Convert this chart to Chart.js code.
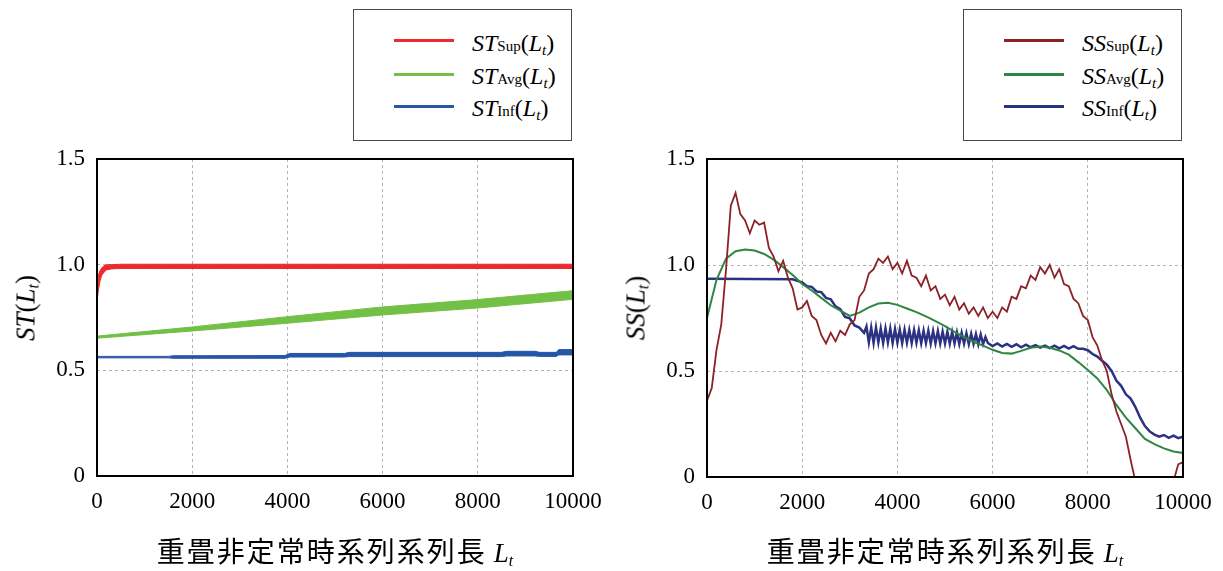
<!DOCTYPE html>
<html>
<head>
<meta charset="utf-8">
<script src="https://cdn.jsdelivr.net/npm/chart.js@4.4.0/dist/chart.umd.min.js"></script>
<style>
  body { margin: 0; background: #fff; width: 1223px; height: 571px; position: relative; overflow: hidden; font-family: "Liberation Serif", serif; }
  canvas { position: absolute; top: 0; }
  .box { position: absolute; box-sizing: border-box; border: 2px solid #000; pointer-events: none; }
  .legend { position: absolute; top: 9px; width: 217px; height: 130px; border: 1.5px solid #4a4a4a; background: #fff; }
  .swatch { position: absolute; left: 40px; width: 60px; height: 3px; }
  .lab { position: absolute; left: 118px; font-size: 24px; line-height: 24px; white-space: nowrap; }
  .lab .s { font-size: 15px; font-style: normal; }
  .lab .t, .ttl .t { font-size: 15px; font-style: italic; position: relative; top: 4px; }
  .ytitle { position: absolute; font-size: 27px; white-space: nowrap; transform: translate(-50%, -50%) rotate(-90deg); }
  .xtitle { position: absolute; top: 532px; white-space: nowrap; transform: translateX(-50%); font-size: 28px; line-height: 36px; }
  .xtitle .jp { font-family: "Noto Sans CJK JP", sans-serif; letter-spacing: 2px; }
  .xtitle .lt { font-family: "Liberation Serif", serif; font-size: 27px; }
  .ttl .t { font-size: 16px; }
</style>
</head>
<body>
<canvas id="stChart" width="614" height="571" style="left:0"></canvas>
<canvas id="ssChart" width="614" height="571" style="left:610px"></canvas>

<!-- plot frames -->
<div class="box" style="left:96px;top:158px;width:478px;height:319px"></div>
<div class="box" style="left:706px;top:158px;width:478px;height:320px"></div>

<div class="legend" style="left:353px">
  <div class="swatch" style="top:29px;background:#ec2a2c"></div>
  <div class="lab" style="top:21px"><i>ST</i><span class="s">Sup</span>(<i>L</i><span class="t">t</span>)</div>
  <div class="swatch" style="top:63px;background:#72c046"></div>
  <div class="lab" style="top:54px"><i>ST</i><span class="s">Avg</span>(<i>L</i><span class="t">t</span>)</div>
  <div class="swatch" style="top:95px;background:#2656a8"></div>
  <div class="lab" style="top:86px"><i>ST</i><span class="s">Inf</span>(<i>L</i><span class="t">t</span>)</div>
</div>
<div class="legend" style="left:963px">
  <div class="swatch" style="top:29px;background:#8c2227"></div>
  <div class="lab" style="top:21px"><i>SS</i><span class="s">Sup</span>(<i>L</i><span class="t">t</span>)</div>
  <div class="swatch" style="top:63px;background:#2d8642"></div>
  <div class="lab" style="top:54px"><i>SS</i><span class="s">Avg</span>(<i>L</i><span class="t">t</span>)</div>
  <div class="swatch" style="top:95px;background:#2c3282"></div>
  <div class="lab" style="top:86px"><i>SS</i><span class="s">Inf</span>(<i>L</i><span class="t">t</span>)</div>
</div>

<div class="ytitle ttl" style="left:26px;top:308px"><i>ST</i>(<i>L</i><span class="t">t</span>)</div>
<div class="ytitle ttl" style="left:636px;top:308px"><i>SS</i>(<i>L</i><span class="t">t</span>)</div>
<div class="xtitle ttl" style="left:335px"><span class="jp">重畳非定常時系列系列長</span> <span class="lt"><i>L</i><span class="t">t</span></span></div>
<div class="xtitle ttl" style="left:945px"><span class="jp">重畳非定常時系列系列長</span> <span class="lt"><i>L</i><span class="t">t</span></span></div>

<script>
// ST(Lt): the curves are thin oscillating bands, kept as upper/lower edges
const stSupLen = [0, 30, 60, 100, 150, 200, 300, 500, 10000];
const stSupHi  = [0.87, 0.95, 0.97, 0.985, 0.995, 1.0, 1.0, 1.002, 1.002];
const stSupLo  = [0.83, 0.88, 0.92, 0.95, 0.965, 0.975, 0.98, 0.982, 0.982];

const stAvgLen = [0, 2000, 4000, 6000, 8000, 10000];
const stAvgHi  = [0.662, 0.705, 0.754, 0.80, 0.835, 0.877];
const stAvgLo  = [0.652, 0.686, 0.723, 0.762, 0.795, 0.836];

const stInfLen = [0, 1500, 1600, 3950, 4050, 5200, 5300, 8500, 8600, 9200, 9300, 9650, 9700, 10000];
const stInfHi  = [0.566, 0.566, 0.569, 0.570, 0.580, 0.580, 0.585, 0.585, 0.590, 0.590, 0.585, 0.585, 0.598, 0.598];
const stInfLo  = [0.559, 0.559, 0.557, 0.557, 0.563, 0.563, 0.565, 0.565, 0.568, 0.568, 0.566, 0.566, 0.573, 0.573];

// SS(Lt) series
const ssSupLen = Array.from({ length: 101 }, (_, i) => i * 100);
const ssSup = [
  0.36, 0.42, 0.60, 0.72, 0.98, 1.28, 1.34, 1.24, 1.21, 1.15,
  1.21, 1.19, 1.20, 1.08, 1.04, 0.97, 1.02, 0.94, 0.89, 0.79,
  0.80, 0.83, 0.76, 0.74, 0.67, 0.63, 0.68, 0.64, 0.69, 0.67,
  0.72, 0.74, 0.85, 0.88, 0.96, 0.98, 1.03, 1.01, 1.04, 0.98,
  1.01, 0.96, 1.02, 0.95, 0.94, 0.90, 0.95, 0.88, 0.90, 0.84,
  0.86, 0.81, 0.85, 0.79, 0.82, 0.77, 0.80, 0.76, 0.80, 0.75,
  0.78, 0.75, 0.80, 0.78, 0.85, 0.84, 0.90, 0.89, 0.95, 0.93,
  0.99, 0.96, 1.00, 0.94, 0.98, 0.91, 0.90, 0.84, 0.82, 0.76,
  0.74, 0.66, 0.62, 0.55, 0.50, 0.39, 0.31, 0.25, 0.19, 0.08,
  -0.02, -0.05, -0.05, -0.05, -0.05, -0.05, -0.05, -0.05, -0.02, 0.06,
  0.07
];

const ssAvgLen = Array.from({ length: 51 }, (_, i) => i * 200);
const ssAvg = [
  0.75, 0.93, 1.03, 1.065, 1.073, 1.068, 1.052, 1.025, 0.99, 0.953,
  0.91, 0.88, 0.845, 0.81, 0.785, 0.76, 0.775, 0.80, 0.818, 0.822,
  0.812, 0.795, 0.778, 0.758, 0.735, 0.712, 0.685, 0.66, 0.638, 0.62,
  0.60, 0.585, 0.582, 0.595, 0.61, 0.615, 0.61, 0.597, 0.577, 0.542,
  0.505, 0.465, 0.41, 0.34, 0.28, 0.23, 0.18, 0.155, 0.135, 0.12,
  0.113
];

const ssInfLen = [
  0, 1800, 1900, 2000, 2100, 2200, 2300, 2400, 2500, 2600, 2700, 2800, 2900, 3000, 3100, 3200, 3300,
  3350, 3400, 3450, 3500, 3550, 3600, 3650, 3700, 3750, 3800,
  3850, 3900, 3950, 4000, 4050, 4100, 4150, 4200, 4250, 4300,
  4350, 4400, 4450, 4500, 4550, 4600, 4650, 4700, 4750, 4800,
  4850, 4900, 4950, 5000, 5050, 5100, 5150, 5200, 5250, 5300,
  5350, 5400, 5450, 5500, 5550, 5600, 5650, 5700, 5750, 5800,
  5850,
  5900, 6000, 6100, 6200, 6300, 6400, 6500, 6600, 6700, 6800,
  6900, 7000, 7100, 7200, 7300, 7400, 7500, 7600, 7700, 7800,
  7900, 8000, 8100, 8200, 8300, 8400, 8500, 8600, 8700, 8800,
  8900, 9000, 9100, 9200, 9300, 9400, 9500, 9600, 9700, 9800,
  9900, 10000
];
const ssInf = [
  0.935, 0.933, 0.925, 0.918, 0.90, 0.897, 0.875, 0.872, 0.845, 0.838, 0.805, 0.792, 0.755, 0.748, 0.715, 0.705, 0.68,
  0.71, 0.635, 0.705, 0.632, 0.705, 0.635, 0.70, 0.632, 0.70, 0.635,
  0.70, 0.632, 0.698, 0.634, 0.695, 0.632, 0.695, 0.634, 0.693, 0.632,
  0.693, 0.633, 0.692, 0.631, 0.69, 0.632, 0.69, 0.63, 0.688, 0.631,
  0.688, 0.63, 0.686, 0.63, 0.685, 0.629, 0.684, 0.63, 0.682, 0.628,
  0.68, 0.629, 0.678, 0.627, 0.676, 0.628, 0.674, 0.626, 0.672, 0.627,
  0.66,
  0.632, 0.618, 0.63, 0.615, 0.628, 0.614, 0.626, 0.612, 0.624, 0.612,
  0.622, 0.61, 0.62, 0.608, 0.62, 0.607, 0.618, 0.606, 0.617, 0.605,
  0.605, 0.598, 0.58, 0.568, 0.548, 0.53, 0.50, 0.455, 0.43, 0.39,
  0.37, 0.33, 0.28, 0.24, 0.215, 0.20, 0.19, 0.198, 0.185, 0.195,
  0.183, 0.19
];

const yTicks = [0, 0.5, 1.0, 1.5];
const xTicks = [0, 2000, 4000, 6000, 8000, 10000];

const pts = (xs, ys) => xs.map((x, i) => ({ x: x, y: ys[i] }));

function line(data, color, width) {
  return { data: data, borderColor: color, borderWidth: width, pointRadius: 0, tension: 0, fill: false };
}

function band(xs, hi, lo, color) {
  return [
    line(pts(xs, hi), color, 1),
    Object.assign(line(pts(xs, lo), color, 1), { fill: '-1', backgroundColor: color })
  ];
}

// the last x label plus tick padding leaves 41px on the right of the plot
function makeOptions(xHeight) {
  const tickFont = { family: 'Liberation Serif', size: 23 };
  return {
    responsive: false,
    animation: false,
    layout: { padding: { top: 159, right: 41, left: 0, bottom: 0 } },
    plugins: { legend: { display: false }, tooltip: { enabled: false } },
    scales: {
      x: {
        type: 'linear', min: xTicks[0], max: xTicks[xTicks.length - 1],
        grid: { color: '#b4b4b4', lineWidth: 1, drawTicks: false },
        border: { display: false, dash: [3, 3] },
        ticks: { stepSize: 2000, font: tickFont, color: '#000', padding: 12, maxRotation: 0, autoSkip: false,
                 callback: v => xTicks.includes(v) ? String(v) : '' },
        afterFit: s => { s.height = xHeight; }
      },
      y: {
        type: 'linear', min: yTicks[0], max: yTicks[yTicks.length - 1],
        grid: { color: '#b4b4b4', lineWidth: 1, drawTicks: false },
        border: { display: false, dash: [3, 3] },
        ticks: { stepSize: 0.5, font: tickFont, color: '#000', padding: 12,
                 callback: v => v === 0 ? '0' : v.toFixed(1) },
        afterFit: s => { s.width = 97; }
      }
    }
  };
}

new Chart(document.getElementById('stChart'), {
  type: 'line',
  data: {
    datasets: [
      ...band(stAvgLen, stAvgHi, stAvgLo, '#72c046'),
      ...band(stInfLen, stInfHi, stInfLo, '#2656a8'),
      ...band(stSupLen, stSupHi, stSupLo, '#ec2a2c')
    ]
  },
  options: makeOptions(95)
});

new Chart(document.getElementById('ssChart'), {
  type: 'line',
  data: {
    datasets: [
      line(pts(ssSupLen, ssSup), '#8c2227', 1.8),
      line(pts(ssAvgLen, ssAvg), '#2d8642', 2),
      line(pts(ssInfLen, ssInf), '#2c3282', 2.5)
    ]
  },
  options: makeOptions(94)
});
</script>
</body>
</html>
